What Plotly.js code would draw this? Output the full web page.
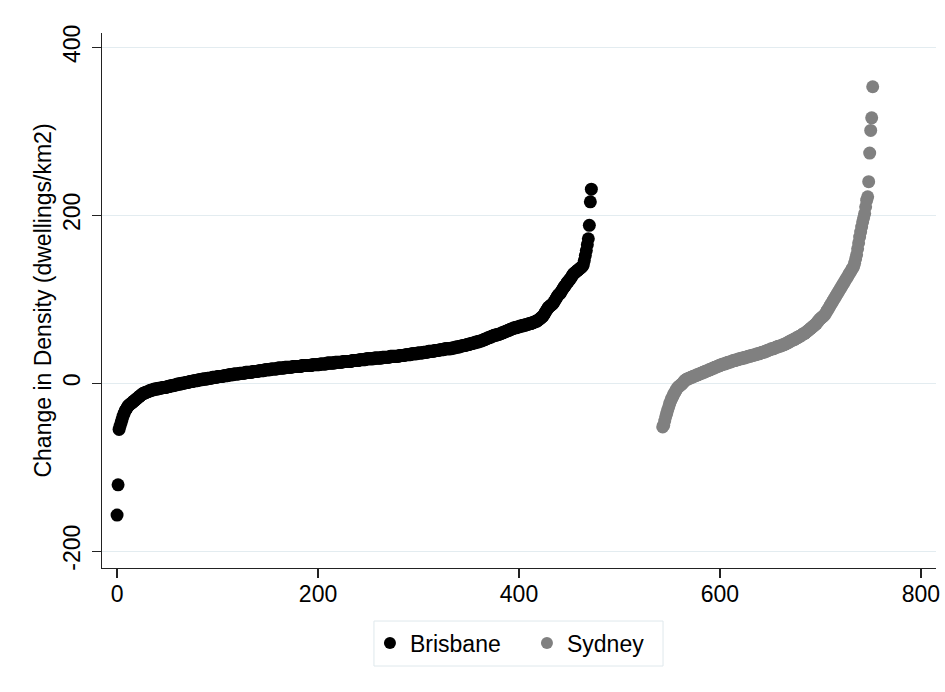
<!DOCTYPE html>
<html>
<head>
<meta charset="utf-8">
<script src="https://cdn.plot.ly/plotly-3.0.1.min.js"></script>
<style>html,body{margin:0;padding:0;background:#fff;}#chart{width:945px;height:692px;}</style>
</head>
<body>
<div id="chart"></div>
<script>
// Observation number where each city's sorted series starts (x axis = observation index)
const brisbaneStart = 0;
const sydneyStart = 543;

// Change in density (dwellings/km2), sorted
const brisbaneValues = [
 -157,-121,-55,-51,-47,-43,-39,-36,-33,-31,
 -29,-27,-26,-25,-24,-23,-22,-21,-20,-19,
 -18,-17,-16,-15,-14,-13,-12,-12,-11,-11,
 -10,-10,-9,-9,-8,-8,-8,-7,-7,-7,
 -7,-6,-6,-6,-6,-5,-5,-5,-5,-5,
 -4,-4,-4,-3,-3,-3,-3,-2,-2,-2,
 -1,-1,-1,-1,0,0,0,0,1,1,
 1,1,2,2,2,2,3,3,3,3,
 3,4,4,4,4,5,5,5,5,5,
 6,6,6,6,6,7,7,7,7,7,
 8,8,8,8,8,8,9,9,9,9,
 9,10,10,10,10,10,11,11,11,11,
 11,11,12,12,12,12,12,12,13,13,
 13,13,13,13,13,14,14,14,14,14,
 14,15,15,15,15,15,15,16,16,16,
 16,16,16,17,17,17,17,17,17,17,
 18,18,18,18,18,18,18,19,19,19,
 19,19,19,19,19,20,20,20,20,20,
 20,20,20,20,21,21,21,21,21,21,
 21,21,21,21,22,22,22,22,22,22,
 22,22,23,23,23,23,23,23,23,24,
 24,24,24,24,24,24,24,25,25,25,
 25,25,25,25,25,26,26,26,26,26,
 26,26,26,26,27,27,27,27,27,27,
 27,28,28,28,28,28,28,28,29,29,
 29,29,29,29,29,29,30,30,30,30,
 30,30,30,30,31,31,31,31,31,31,
 31,31,32,32,32,32,32,32,32,32,
 32,33,33,33,33,33,33,34,34,34,
 34,34,34,35,35,35,35,35,35,36,
 36,36,36,36,36,37,37,37,37,37,
 38,38,38,38,38,38,39,39,39,39,
 39,40,40,40,40,40,41,41,41,41,
 41,41,41,42,42,42,42,43,43,43,
 43,44,44,44,45,45,45,45,46,46,
 46,47,47,47,48,48,48,49,49,49,
 50,50,50,51,51,52,52,53,53,54,
 54,55,55,56,56,57,57,57,58,58,
 58,59,59,60,60,61,61,62,62,63,
 63,64,64,65,65,66,66,66,67,67,
 67,68,68,68,69,69,69,70,70,70,
 71,71,71,72,72,73,73,74,74,75,
 76,77,78,79,80,82,84,86,88,90,
 91,92,93,94,95,97,99,101,103,105,
 106,107,109,111,113,115,116,118,120,121,
 123,124,126,128,130,131,132,133,134,135,
 136,137,138,139,141,146,152,158,165,172,
 188,216,231
];

const sydneyValues = [
 -52,-50,-45,-40,-36,-32,-28,-24,-21,-18,
 -16,-13,-11,-9,-7,-5,-4,-3,-2,-1,
 0,2,3,4,5,5,6,6,7,7,
 8,8,9,9,10,10,11,11,12,12,
 13,13,14,14,15,15,16,16,17,17,
 18,18,19,19,20,20,21,21,22,22,
 23,23,23,24,24,25,25,25,26,26,
 27,27,27,28,28,28,29,29,29,30,
 30,30,31,31,31,32,32,32,33,33,
 33,34,34,34,35,35,35,36,36,37,
 37,37,38,38,39,39,40,40,41,41,
 41,42,42,43,43,44,44,44,45,45,
 46,46,47,47,48,49,49,50,51,51,
 52,52,53,54,54,55,56,56,57,58,
 59,59,60,61,62,63,64,65,66,67,
 68,69,70,71,73,74,76,77,78,79,
 80,81,83,85,87,89,91,93,95,97,
 99,101,103,105,107,109,111,113,115,117,
 119,121,123,125,127,129,131,133,135,137,
 139,143,148,153,160,167,174,180,186,192,
 197,202,210,218,222,240,274,301,316,353
];

const seriesNames = ['Brisbane', 'Sydney'];
const seriesColors = ['#000000', '#808080'];
const xTicks = [0, 200, 400, 600, 800];
const yTicks = [-200, 0, 200, 400];

function obs(start, vals) { return vals.map((_, i) => start + i); }

const traces = [
  {x: obs(brisbaneStart, brisbaneValues), y: brisbaneValues, name: seriesNames[0],
   type: 'scatter', mode: 'markers', marker: {color: seriesColors[0], size: 13}},
  {x: obs(sydneyStart, sydneyValues), y: sydneyValues, name: seriesNames[1],
   type: 'scatter', mode: 'markers', marker: {color: seriesColors[1], size: 13}}
];

const axisCommon = {
  showline: true, linecolor: '#222', linewidth: 1.3, mirror: false,
  ticks: 'outside', ticklen: 9, tickwidth: 1.3, tickcolor: '#222',
  zeroline: false, tickfont: {size: 23, color: '#000'}
};

const layout = {
  width: 945, height: 692,
  margin: {l: 102, r: 9, t: 33, b: 124},
  paper_bgcolor: '#ffffff', plot_bgcolor: '#ffffff',
  font: {family: '"Liberation Sans", Arial, Helvetica, sans-serif', size: 23, color: '#000'},
  xaxis: Object.assign({}, axisCommon, {
    range: [-15, 815], tickmode: 'array', tickvals: xTicks, ticktext: xTicks.map(String),
    showgrid: false, ticklabelstandoff: -4
  }),
  yaxis: Object.assign({}, axisCommon, {
    range: [-220, 417], tickmode: 'array', tickvals: yTicks, ticktext: yTicks.map(String),
    tickangle: -90, showgrid: true, gridcolor: '#e3ecf0', gridwidth: 1.3, ticklabelstandoff: 3,
    title: {text: 'Change in Density (dwellings/km2)', font: {size: 23, color: '#000'}, standoff: 0}
  }),
  showlegend: true,
  legend: {
    orientation: 'h', x: 0.3213, xanchor: 'left', y: -0.1, yanchor: 'top',
    borderwidth: 0, bgcolor: 'rgba(0,0,0,0)',
    font: {size: 23, color: '#000'}, itemsizing: 'constant', entrywidth: 112
  },
  shapes: [{
    type: 'rect', xref: 'paper', yref: 'paper',
    x0: 0.3261, x1: 0.6727, y0: -0.1832, y1: -0.0991,
    line: {color: '#dfe8ec', width: 1}, fillcolor: 'rgba(0,0,0,0)', layer: 'above'
  }]
};

Plotly.newPlot('chart', traces, layout, {displayModeBar: false, staticPlot: true});
</script>
</body>
</html>
